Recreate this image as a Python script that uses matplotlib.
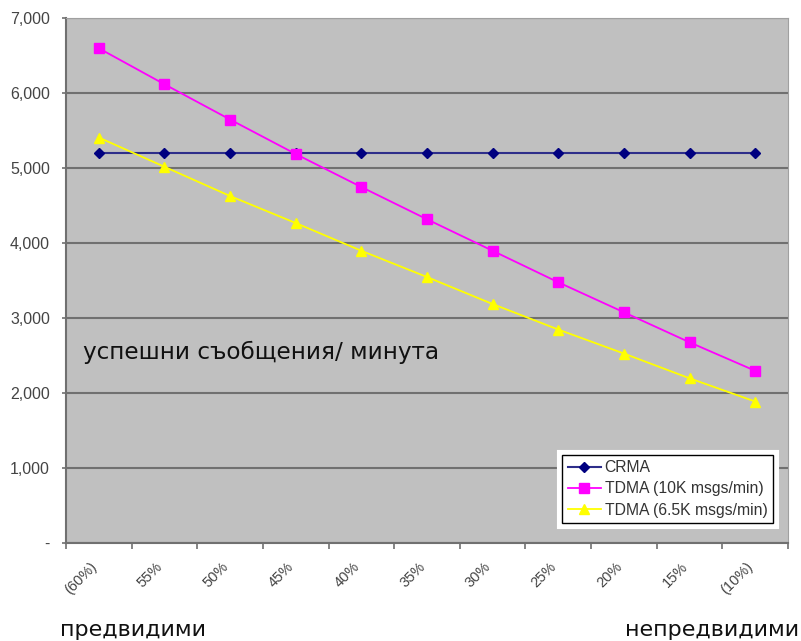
import numpy as np
import matplotlib.pyplot as plt
import matplotlib.patheffects as pe
from matplotlib.ticker import FuncFormatter
from matplotlib.transforms import ScaledTranslation

# data
categories = ["(60%)", "55%", "50%", "45%", "40%", "35%", "30%", "25%", "20%", "15%", "(10%)"]
crma = [5200, 5200, 5200, 5200, 5200, 5200, 5200, 5200, 5200, 5200, 5200]
tdma_10k = [6600, 6120, 5650, 5190, 4750, 4320, 3900, 3480, 3080, 2680, 2300]
tdma_65k = [5410, 5020, 4630, 4270, 3900, 3550, 3190, 2850, 2530, 2200, 1890]

plt.rcParams['font.family'] = ['Liberation Sans', 'DejaVu Sans']

fig = plt.figure(figsize=(8.01, 6.41), dpi=100)
ax = fig.add_axes([0.0824, 0.1524, 0.9014, 0.8191])
ax.set_facecolor('#C0C0C0')

x = np.arange(len(categories))
ax.plot(x, crma, color='#2E2E8A', lw=1.5, marker='D', ms=5.5, mfc='#000080', mec='#000080', label='CRMA', zorder=3)
ax.plot(x, tdma_10k, color='#FF00FF', lw=1.3, marker='s', ms=6.5, mfc='#FF00FF', mec='#FF00FF', label='TDMA (10K msgs/min)', zorder=3)
ax.plot(x, tdma_65k, color='#FFFF00', lw=1.3, marker='^', ms=7, mfc='#FFFF00', mec='#FFFF00', label='TDMA (6.5K msgs/min)', zorder=3)

ax.set_xlim(-0.5, len(categories) - 0.5)
ax.set_ylim(0, 7000)
ax.set_yticks(np.arange(0, 7001, 1000))
ax.yaxis.set_major_formatter(FuncFormatter(lambda v, p: '-' if v == 0 else '{:,.0f}'.format(v)))
ax.grid(axis='y', color='#707070', lw=1.5)
ax.set_axisbelow(True)

ax.set_xticks(x)
ax.set_xticklabels(categories, rotation=45, ha='right', rotation_mode='anchor')
ax.set_xticks(np.arange(-0.5, len(categories)), minor=True)
ax.tick_params(axis='x', which='major', length=0, pad=12, labelsize=10.5, labelcolor='#444444')
ax.tick_params(axis='x', which='minor', length=4, color='#707070', width=1.2)
ax.tick_params(axis='y', length=3, pad=8.5, color='#707070', width=1.2, labelsize=11.5, labelcolor='#444444')
for lab in ax.get_xticklabels():
    lab.set_transform(lab.get_transform() + ScaledTranslation(-0.09, 0, fig.dpi_scale_trans))

for s in ['top', 'right']:
    ax.spines[s].set_color('#A0A0A0')
for s in ['left', 'bottom']:
    ax.spines[s].set_color('#707070')
    ax.spines[s].set_linewidth(1.5)

leg = ax.legend(loc='lower right', bbox_to_anchor=(0.965, 0.184), bbox_transform=fig.transFigure,
                fontsize=11.3, frameon=True, fancybox=False, edgecolor='black', framealpha=1,
                borderpad=0.35, handlelength=2.1, handletextpad=0.25,
                labelspacing=0.4, borderaxespad=0)
leg.get_frame().set_linewidth(1.0)
leg.get_frame().set_path_effects([pe.Stroke(linewidth=8, foreground='white'), pe.Normal()])
for t in leg.get_texts():
    t.set_color('#333333')

fig.text(0.104, 0.45, "успешни съобщения/ минута", fontsize=16.7, family='DejaVu Sans',
         color='#111111', va='center')
fig.text(0.075, 0.008, "предвидими", fontsize=16, family='DejaVu Sans', color='#111111', va='baseline')
fig.text(0.78, 0.008, "непредвидими", fontsize=16, family='DejaVu Sans', color='#111111', va='baseline')

plt.savefig("out.png", dpi=100)
